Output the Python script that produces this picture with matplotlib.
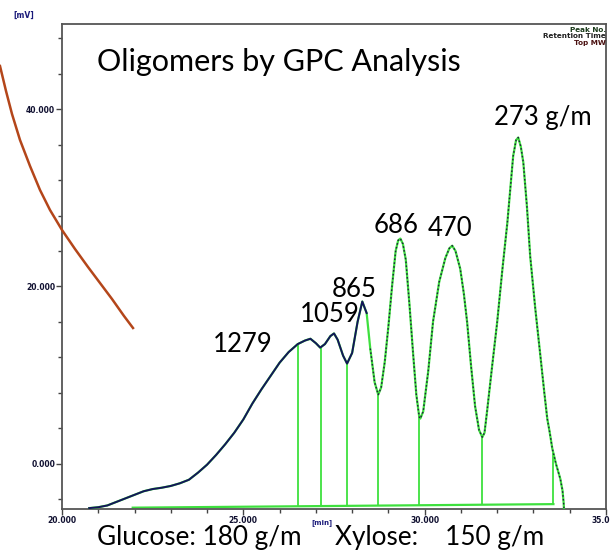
import numpy as np
import matplotlib
matplotlib.use("Agg")
import matplotlib.pyplot as plt
from matplotlib.ticker import MultipleLocator, FormatStrFormatter

# retention time [min] and detector signal [mV]
time_min = [20.75, 21.0, 21.25, 21.5, 21.75, 22.0, 22.25, 22.5, 22.75, 23.0,
            23.25, 23.5, 23.75, 24.0, 24.25, 24.5, 24.75, 25.0, 25.25, 25.5,
            25.75, 26.0, 26.25, 26.5, 26.7, 26.85, 27.0, 27.12, 27.25, 27.4,
            27.5, 27.6, 27.75, 27.86, 28.0, 28.15, 28.28, 28.4, 28.5, 28.62,
            28.72, 28.8, 28.9, 29.0, 29.1, 29.2, 29.27, 29.33, 29.4, 29.48,
            29.58, 29.68, 29.77, 29.85, 29.88, 29.96, 30.1, 30.23, 30.4, 30.57,
            30.68, 30.76, 30.85, 30.98, 31.08, 31.17, 31.28, 31.39, 31.5, 31.59,
            31.65, 31.72, 31.86, 32.0, 32.14, 32.28, 32.44, 32.52, 32.58, 32.65,
            32.72, 32.82, 32.91, 33.05, 33.19, 33.3, 33.38, 33.45, 33.52, 33.62,
            33.74, 33.8, 33.83, 33.84]
signal_mv = [-5.0, -4.9, -4.7, -4.3, -3.9, -3.5, -3.1, -2.85, -2.7, -2.5,
             -2.2, -1.8, -1.0, -0.1, 1.0, 2.2, 3.5, 5.0, 6.8, 8.4,
             9.9, 11.4, 12.6, 13.5, 13.9, 14.1, 13.6, 13.1, 13.5, 14.4,
             14.7, 14.0, 12.2, 11.3, 12.5, 16.0, 18.3, 17.0, 13.0, 9.2,
             7.8, 8.6, 11.5, 15.5, 20.0, 24.0, 25.2, 25.4, 24.8, 23.0,
             18.0, 12.5, 7.8, 5.3, 5.1, 5.9, 10.5, 16.0, 20.5, 23.2,
             24.3, 24.6, 24.0, 22.0, 19.2, 16.0, 11.0, 6.5, 3.8, 3.0,
             3.5, 5.9, 11.0, 16.0, 21.8, 27.2, 34.7, 36.5, 36.8, 35.8,
             34.0, 29.0, 23.4, 17.5, 12.2, 8.0, 5.1, 3.5, 1.7, 0.0,
             -1.7, -3.0, -4.3, -5.0]

# peak slicing marks and baseline
cut_times = [26.51, 27.14, 27.86, 28.71, 29.85, 31.59, 33.55]
baseline_t = [21.95, 33.55]
baseline_y = [-4.95, -4.55]

# peak annotations (molar mass) and where they sit
peak_labels = ["1279", "1059", "865", "686", "470", "273 g/m"]
label_t = [24.99, 27.39, 28.06, 29.21, 30.70, 33.27]
label_y = [13.5, 16.8, 19.7, 26.9, 26.5, 39.1]

# hand-drawn pointer on the slide (figure pixels, y from top)
pointer_x = [0, 6, 12, 20, 30, 40, 50, 62, 75, 88, 100, 112, 124, 133]
pointer_y = [66, 91, 114, 140, 166, 190, 210, 230, 249, 267, 283, 299, 316, 328]

W, H = 610, 555
fig = plt.figure(figsize=(W / 100, H / 100), dpi=100)
ax = fig.add_axes([62 / W, 1 - 509 / H, 544 / W, 485 / H])

t = np.array(time_min)
s = np.array(signal_mv)

green = "#3ee03e"
ax.plot(t, s, color=green, lw=1.6, zorder=3)
left = t <= 28.4
ax.plot(t[left], s[left], color="#14145a", lw=1.4, zorder=4)
ax.plot(t[~left], s[~left], color="#202040", lw=1.0, ls=(0, (1.2, 1.6)), zorder=4)

bl = np.interp(cut_times, baseline_t, baseline_y)
top = np.interp(cut_times, t, s)
ax.vlines(cut_times, bl, top, color=green, lw=1.3, zorder=2)
ax.plot(baseline_t, baseline_y, color=green, lw=1.6, zorder=2)

for lab, lt, ly in zip(peak_labels, label_t, label_y):
    ax.text(lt, ly, lab, ha="center", va="center", fontsize=18.5,
            family="Lato", color="black")

ax.text(35 / 544, 1 - 38 / 485, "Oligomers by GPC Analysis", transform=ax.transAxes,
        ha="left", va="center", fontsize=22, family="Lato")

ax.set_xlim(20, 35)
ax.set_ylim(-5.1, 49.6)
ax.xaxis.set_major_locator(MultipleLocator(5))
ax.xaxis.set_minor_locator(MultipleLocator(1))
ax.yaxis.set_major_locator(MultipleLocator(20))
ax.yaxis.set_minor_locator(MultipleLocator(4))
ax.xaxis.set_major_formatter(FormatStrFormatter("%.3f"))
ax.yaxis.set_major_formatter(FormatStrFormatter("%.3f"))
ax.tick_params(which="both", direction="out", color="#444444", width=1.0,
               labelsize=5.5, pad=1, labelcolor="#101030")
ax.tick_params(which="major", length=4)
ax.tick_params(which="minor", length=3)
for lab in ax.get_xticklabels() + ax.get_yticklabels():
    lab.set_fontweight("bold")
for sp in ax.spines.values():
    sp.set_color("#555555")
    sp.set_linewidth(1.3)

# detector-style labels
fig.text(13 / W, 1 - 15 / H, "[mV]", fontsize=5.5, fontweight="bold",
         color="#1a1a7a", va="center")
fig.text(322 / W, 1 - 523 / H, "[min]", fontsize=5, fontweight="bold",
         color="#1a1a7a", ha="center", va="center")
for i, (txt, c) in enumerate([("Peak No.", "#1a3a1a"),
                              ("Retention Time", "#202020"),
                              ("Top MW", "#4a1010")]):
    fig.text(606 / W, 1 - (30 + 6.5 * i) / H, txt, fontsize=5.2,
             fontweight="bold", color=c, ha="right", va="center")

# slide captions under the chart
fig.text(97 / W, 1 - 538 / H, "Glucose: 180 g/m", fontsize=18.8,
         family="Lato", va="center")
fig.text(335 / W, 1 - 538 / H, "Xylose:    150 g/m", fontsize=18.8,
         family="Lato", va="center")

fig.add_artist(plt.Line2D(np.array(pointer_x) / W, 1 - np.array(pointer_y) / H,
                          color="#b4461a", lw=1.8, transform=fig.transFigure))

fig.savefig("out.png", dpi=100)
